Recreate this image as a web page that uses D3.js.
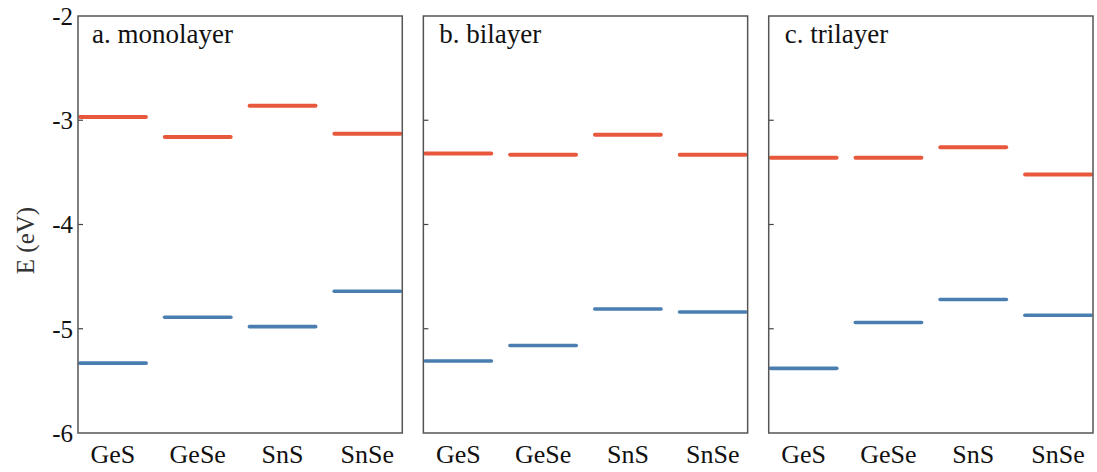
<!DOCTYPE html>
<html>
<head>
<meta charset="utf-8">
<script src="https://cdn.jsdelivr.net/npm/d3@7"></script>
<style>
  html, body { margin: 0; padding: 0; background: #fff; }
  svg { display: block; }
</style>
</head>
<body>
<svg id="chart" width="1097" height="472"></svg>
<script>
// Band-edge energies (eV) for the four group-IV monochalcogenides
const materials = ["GeS", "GeSe", "SnS", "SnSe"];
const panelTitles = ["a. monolayer", "b. bilayer", "c. trilayer"];

// Conduction band minimum
const cbmMono = [-2.97, -3.16, -2.86, -3.13];
const cbmBi   = [-3.32, -3.33, -3.14, -3.33];
const cbmTri  = [-3.36, -3.36, -3.26, -3.52];

// Valence band maximum
const vbmMono = [-5.33, -4.89, -4.98, -4.64];
const vbmBi   = [-5.31, -5.16, -4.81, -4.84];
const vbmTri  = [-5.38, -4.94, -4.72, -4.87];

const yTicks = [-6, -5, -4, -3, -2];

const panels = [
  { title: panelTitles[0], cbm: cbmMono, vbm: vbmMono },
  { title: panelTitles[1], cbm: cbmBi,   vbm: vbmBi },
  { title: panelTitles[2], cbm: cbmTri,  vbm: vbmTri }
];

const serif = "'Liberation Serif'";
const svg = d3.select("#chart");
const plotTop = 16, plotBottom = 433;
const cbmColor = "#e8583d", vbmColor = "#4a7db0";

const y = d3.scaleLinear().domain([-6, -2]).range([plotBottom, plotTop]);

const px = d3.scaleBand()
  .domain(d3.range(panels.length))
  .range([78, 1093])
  .paddingInner(0.061)
  .paddingOuter(0);

const pw = px.bandwidth();
const x = d3.scaleBand()
  .domain(materials)
  .range([0, pw])
  .paddingInner(0.176)
  .paddingOuter(0);

panels.forEach((p, i) => {
  const g = svg.append("g").attr("transform", `translate(${px(i)},0)`);

  // inward ticks on the left edge
  g.selectAll("line.tick").data(yTicks.slice(1, -1)).join("line")
    .attr("class", "tick")
    .attr("x1", 0).attr("x2", 5)
    .attr("y1", d => y(d)).attr("y2", d => y(d))
    .attr("stroke", "#444").attr("stroke-width", 1.2);

  // energy levels
  const levels = (vals, color, sw) => {
    g.selectAll(null).data(materials.map((m, k) => ({ m, v: vals[k] }))).join("line")
      .attr("x1", d => x(d.m) + sw / 2)
      .attr("x2", d => x(d.m) + x.bandwidth() - sw / 2)
      .attr("y1", d => y(d.v)).attr("y2", d => y(d.v))
      .attr("stroke", color).attr("stroke-width", sw)
      .attr("stroke-linecap", "round");
  };
  levels(p.cbm, cbmColor, 4);
  levels(p.vbm, vbmColor, 3.6);

  // frame
  g.append("rect")
    .attr("x", 0).attr("y", plotTop)
    .attr("width", pw).attr("height", plotBottom - plotTop)
    .attr("fill", "none").attr("stroke", "#555").attr("stroke-width", 1.5);

  // panel title
  g.append("text")
    .attr("x", i === 0 ? 14 : 16).attr("y", 43)
    .attr("font-size", 27)
    .attr("fill", "#111")
    .style("font-family", serif)
    .text(p.title);

  // material labels
  g.selectAll("text.cat").data(materials).join("text")
    .attr("class", "cat")
    .attr("x", d => x(d) + x.bandwidth() / 2)
    .attr("y", 463)
    .attr("text-anchor", "middle")
    .attr("font-size", 26)
    .attr("fill", "#111")
    .style("font-family", serif)
    .text(d => d);
});

// shared y tick labels
svg.selectAll("text.ytl").data(yTicks).join("text")
  .attr("class", "ytl")
  .attr("x", 73)
  .attr("y", d => y(d))
  .attr("dy", "0.35em")
  .attr("text-anchor", "end")
  .attr("font-size", 25)
  .attr("fill", "#111")
  .style("font-family", serif)
  .text(d => d3.format("d")(d).replace("−", "-"));

// axis title
svg.append("text")
  .attr("transform", `translate(34,${(plotTop + plotBottom) / 2 + 16}) rotate(-90)`)
  .attr("text-anchor", "middle")
  .attr("font-size", 25)
  .attr("fill", "#333")
  .style("font-family", serif)
  .text("E (eV)");
</script>
</body>
</html>
